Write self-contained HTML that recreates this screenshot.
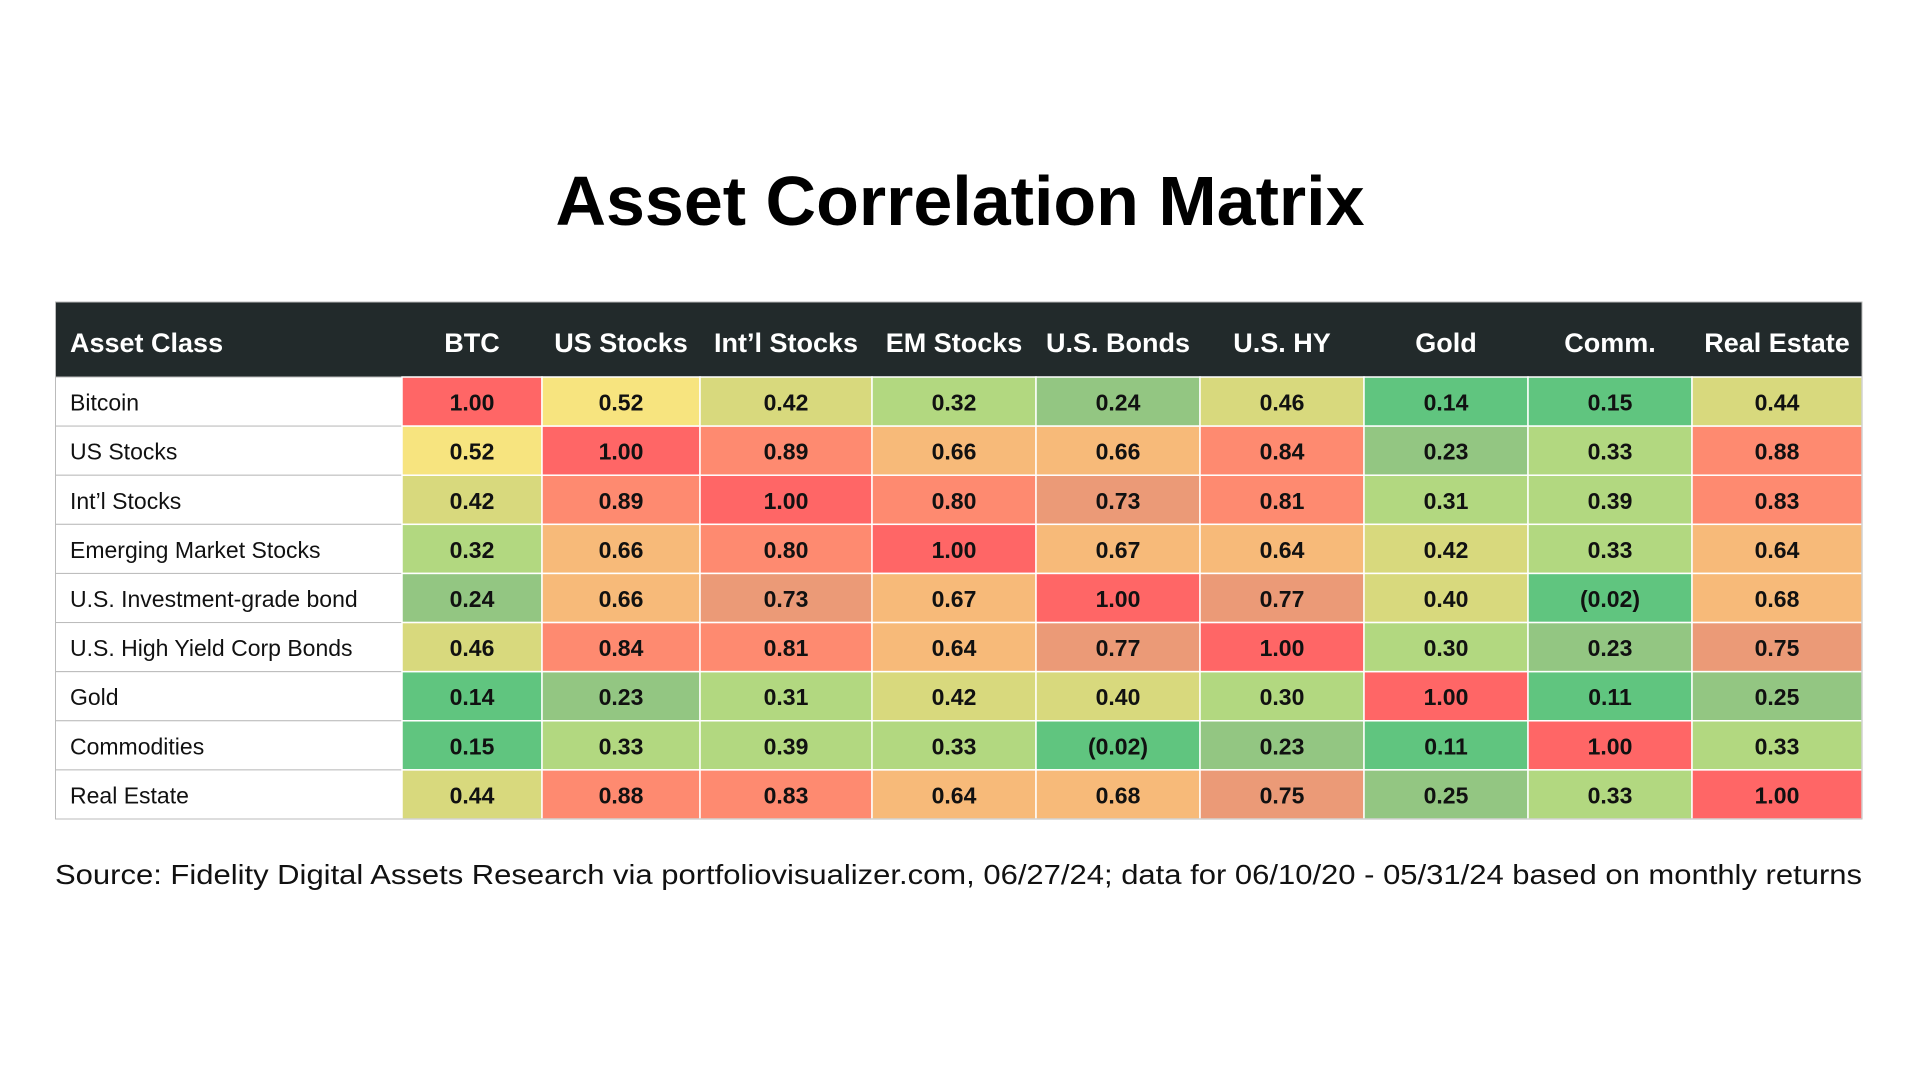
<!DOCTYPE html>
<html><head><meta charset="utf-8"><style>
body{margin:0;background:#fff;width:1920px;height:1080px;overflow:hidden}
svg{display:block;font-family:"Liberation Sans",Arial,sans-serif}
</style></head><body>
<svg id="chart" width="1920" height="1080">
<text x="960" y="225" text-anchor="middle" font-size="70" font-weight="bold" fill="#000">Asset Correlation Matrix</text>
<g id="tbl"></g>
<text x="55" y="884" font-size="28" fill="#111" textLength="1807" lengthAdjust="spacingAndGlyphs">Source: Fidelity Digital Assets Research via portfoliovisualizer.com, 06/27/24; data for 06/10/20 - 05/31/24 based on monthly returns</text>
</svg>
<script>
const colHeaders=["BTC","US Stocks","Int’l Stocks","EM Stocks","U.S. Bonds","U.S. HY","Gold","Comm.","Real Estate"];
const rowLabels=["Bitcoin","US Stocks","Int’l Stocks","Emerging Market Stocks","U.S. Investment-grade bond","U.S. High Yield Corp Bonds","Gold","Commodities","Real Estate"];
const row0=[1.00,0.52,0.42,0.32,0.24,0.46,0.14,0.15,0.44];
const row1=[0.52,1.00,0.89,0.66,0.66,0.84,0.23,0.33,0.88];
const row2=[0.42,0.89,1.00,0.80,0.73,0.81,0.31,0.39,0.83];
const row3=[0.32,0.66,0.80,1.00,0.67,0.64,0.42,0.33,0.64];
const row4=[0.24,0.66,0.73,0.67,1.00,0.77,0.40,-0.02,0.68];
const row5=[0.46,0.84,0.81,0.64,0.77,1.00,0.30,0.23,0.75];
const row6=[0.14,0.23,0.31,0.42,0.40,0.30,1.00,0.11,0.25];
const row7=[0.15,0.33,0.39,0.33,-0.02,0.23,0.11,1.00,0.33];
const row8=[0.44,0.88,0.83,0.64,0.68,0.75,0.25,0.33,1.00];
const values=[row0,row1,row2,row3,row4,row5,row6,row7,row8];

const NS="http://www.w3.org/2000/svg";
const g=document.getElementById('tbl');
const colEdges=[55,402,542,700,872,1036,1200,1364,1528,1692,1862];
const headTop=302, headBot=377, rowH=(819-377)/9;
function yRow(i){return headBot+i*rowH;}
function color(v){
 if(v>=0.95) return "#FF6666";
 if(v>=0.78) return "#FE8A70";
 if(v>=0.70) return "#EB9A77";
 if(v>=0.6) return "#F7BA79";
 if(v>=0.5) return "#F7E47F";
 if(v>=0.4) return "#D8D97D";
 if(v>=0.3) return "#B2D880";
 if(v>=0.2) return "#93C682";
 return "#60C57F";
}
function fmt(v){return v<0?"("+Math.abs(v).toFixed(2)+")":v.toFixed(2);}
function el(t,a,txt){const e=document.createElementNS(NS,t);for(const k in a)e.setAttribute(k,a[k]);if(txt!==undefined)e.textContent=txt;g.appendChild(e);return e;}

let hb=el('rect',{x:55,y:headTop,width:1807,height:headBot-headTop,fill:"#222A2B"});


let ht=el('text',{x:70,y:352,"font-size":27,"font-weight":"bold",fill:"#fff"},"Asset Class");


colHeaders.forEach((h,j)=>{
 const cx=(colEdges[j+1]+colEdges[j+2])/2;
 const t=el('text',{x:cx,y:352,"font-size":27,"font-weight":"bold",fill:"#fff","text-anchor":"middle"},h);
 
 
});
rowLabels.forEach((lab,i)=>{
 const y=yRow(i);
 const r=el('rect',{x:55.5,y:y,width:colEdges[1]-55.5,height:rowH,fill:"#fff",stroke:"#bbb","stroke-width":1});
 
 
 const t=el('text',{x:70,y:y+rowH/2+9,"font-size":23,fill:"#111"},lab);
 
 
 values[i].forEach((v,j)=>{
  const x0=colEdges[j+1],x1=colEdges[j+2];
  const c=el('rect',{x:x0,y:y,width:x1-x0,height:rowH,fill:color(v),stroke:"#fff","stroke-width":1.5});
  
  
  const tv=el('text',{x:(x0+x1)/2,y:y+rowH/2+9,"font-size":23,"font-weight":"bold",fill:"#111","text-anchor":"middle"},fmt(v));
  
  
 });
});
const ob=el('rect',{x:55.5,y:headTop,width:1806.5,height:819-headTop,fill:"none",stroke:"#bbb","stroke-width":1});


</script>
</body></html>
